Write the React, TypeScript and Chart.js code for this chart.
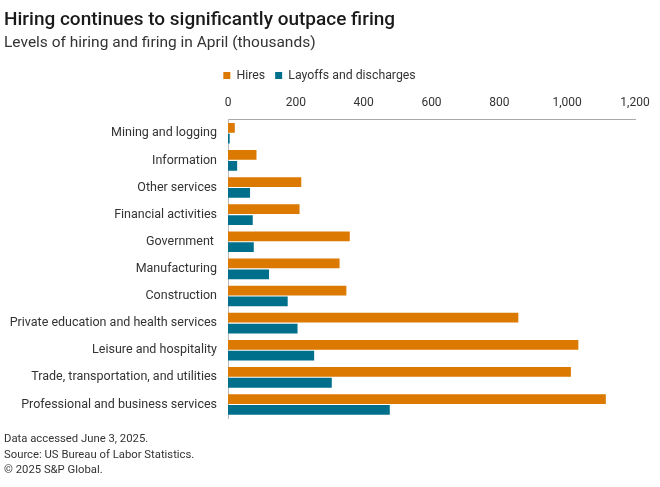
import React, { useEffect, useRef } from "react";
import { Chart, registerables } from "chart.js";

Chart.register(...registerables);

const categories = [
  "Mining and logging",
  "Information",
  "Other services",
  "Financial activities",
  "Government ",
  "Manufacturing",
  "Construction",
  "Private education and health services",
  "Leisure and hospitality",
  "Trade, transportation, and utilities",
  "Professional and business services",
];
const hires = [20, 84, 216, 211, 359, 329, 349, 856, 1033, 1011, 1114];
const layoffs = [5, 27, 65, 73, 76, 121, 176, 205, 254, 306, 477];
const xTicks = [0, 200, 400, 600, 800, 1000, 1200];
const titleText = "Hiring continues to significantly outpace firing";
const subtitleText = "Levels of hiring and firing in April (thousands)";
const footerLines = [
  "Data accessed June 3, 2025.",
  "Source: US Bureau of Labor Statistics.",
  "© 2025 S&P Global.",
];

const FONT = "Roboto, 'Noto Sans', sans-serif";

const footerPlugin = {
  id: "footerText",
  afterDraw(chart: any) {
    const ctx = chart.ctx;
    ctx.save();
    ctx.font = `11.3px ${FONT}`;
    ctx.fillStyle = "#333";
    ctx.textAlign = "left";
    ctx.textBaseline = "middle";
    const ys = [439, 455, 470];
    footerLines.forEach((t, i) => ctx.fillText(t, 4, ys[i]));
    ctx.restore();
  },
};

export default function App() {
  const ref = useRef<HTMLCanvasElement>(null);
  useEffect(() => {
    if (!ref.current) return;
    const chart = new Chart(ref.current, {
      type: "bar",
      data: {
        labels: categories,
        datasets: [
          {
            label: "Hires",
            data: hires,
            backgroundColor: "#dc7900",
            categoryPercentage: 0.8,
            barPercentage: 0.9,
          },
          {
            label: "Layoffs and discharges",
            data: layoffs,
            backgroundColor: "#006f8c",
            categoryPercentage: 0.8,
            barPercentage: 0.9,
          },
        ],
      },
      options: {
        indexAxis: "y",
        animation: false,
        responsive: false,
        devicePixelRatio: 1,
        layout: { padding: { left: 4, right: 25, top: 0, bottom: 69 } },
        plugins: {
          title: {
            display: true,
            text: titleText,
            align: "start",
            color: "#1a1a1a",
            font: { family: FONT, size: 19, weight: "500" as any, lineHeight: 1.2 },
            padding: { top: 9, bottom: 1 },
          },
          subtitle: {
            display: true,
            text: subtitleText,
            align: "start",
            color: "#333",
            font: { family: FONT, size: 15.5, weight: "normal" as any, lineHeight: 1.2 },
            padding: { top: 1, bottom: 7 },
          },
          legend: {
            display: true,
            position: "top",
            labels: {
              boxWidth: 7,
              boxHeight: 7,
              color: "#333",
              font: { family: FONT, size: 12.3 },
              padding: 10,
            },
          },
          tooltip: { enabled: false },
        },
        scales: {
          x: {
            position: "top",
            min: 0,
            max: 1200,
            afterBuildTicks: (scale: any) => {
              scale.ticks = xTicks.map((v) => ({ value: v }));
            },
            afterFit: (scale: any) => {
              scale.height = 28;
            },
            grid: { display: false, drawTicks: false },
            border: { display: true, color: "#aaa", width: 1 },
            ticks: {
              color: "#333",
              font: { family: FONT, size: 12 },
              padding: 10,
              maxRotation: 0,
              callback: (v: any) => Number(v).toLocaleString("en-US"),
            },
          },
          y: {
            afterFit: (scale: any) => {
              scale.width = 224;
            },
            grid: { display: false, drawTicks: false },
            border: { display: true, color: "#bbb", width: 1 },
            ticks: {
              color: "#333",
              font: { family: FONT, size: 12.5 },
              padding: 11,
            },
          },
        },
      },
      plugins: [footerPlugin],
    });
    return () => chart.destroy();
  }, []);
  return (
    <div style={{ position: "absolute", left: 0, top: 0, width: 660, height: 487, background: "#fff" }}>
      <canvas ref={ref} width={660} height={487} style={{ width: 660, height: 487 }} />
    </div>
  );
}
